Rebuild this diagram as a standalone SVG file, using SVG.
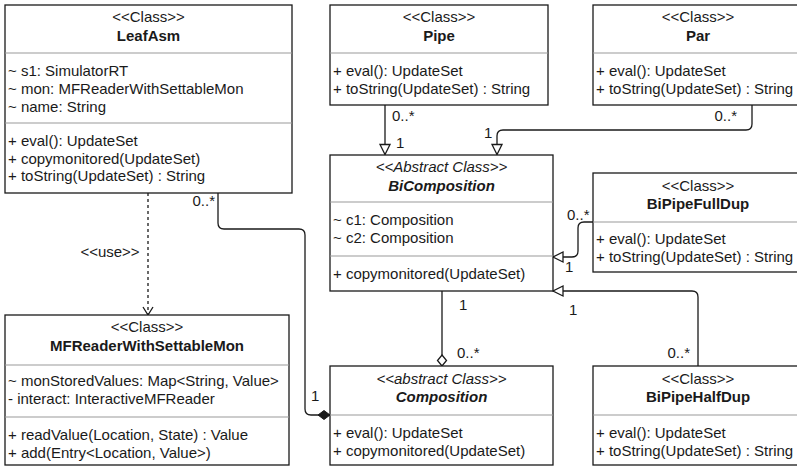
<svg xmlns="http://www.w3.org/2000/svg" width="797" height="466" viewBox="0 0 797 466">
<style>
text{font-family:"Liberation Sans",Arial,Helvetica,sans-serif;font-size:15px;fill:#1a1a1a}
.box{fill:#fff;stroke:#1a1a1a;stroke-width:1.3}
.sep{stroke:#999;stroke-width:1.1}
.st{text-anchor:middle}
.nm{text-anchor:middle;font-weight:bold}
.it{font-style:italic}
.edge{fill:none;stroke:#1a1a1a;stroke-width:1.3}
.dash{stroke-dasharray:3 3}
.end{text-anchor:end}
.mid{text-anchor:middle}
</style>
<defs>
<marker id="tri" viewBox="0 0 11 11" refX="10.5" refY="5.5" markerWidth="11" markerHeight="11" orient="auto" markerUnits="userSpaceOnUse" overflow="visible"><path d="M0.5,0.5 L10.5,5.5 L0.5,10.5 Z" fill="#fff" stroke="#1a1a1a" stroke-width="1.3"/></marker>
<marker id="vee" viewBox="0 0 8 10" refX="8" refY="5" markerWidth="8" markerHeight="10" orient="auto" markerUnits="userSpaceOnUse" overflow="visible"><path d="M0,0 L8,5 L0,10" fill="none" stroke="#1a1a1a" stroke-width="1.3"/></marker>
<marker id="odia" viewBox="0 0 11 9" refX="11" refY="4.5" markerWidth="11" markerHeight="9" orient="auto" markerUnits="userSpaceOnUse" overflow="visible"><path d="M0,4.5 L5.5,0 L11,4.5 L5.5,9 Z" fill="#fff" stroke="#1a1a1a" stroke-width="1.3"/></marker>
<marker id="fdia" viewBox="0 0 12 9" refX="12" refY="4.5" markerWidth="12" markerHeight="9" orient="auto" markerUnits="userSpaceOnUse" overflow="visible"><path d="M0,4.5 L6,0 L12,4.5 L6,9 Z" fill="#1a1a1a" stroke="#1a1a1a" stroke-width="1"/></marker>
</defs>
<rect width="797" height="466" fill="#fff"/>

<g id="connectors">
<path class="edge dash" d="M148 193 V315" marker-end="url(#vee)"/>
<path class="edge" d="M218 193 V223 Q218 229 224 229 H299 Q305 229 305 235 V409 Q305 415 311 415 H330" marker-end="url(#fdia)"/>
<path class="edge" d="M385 105 V154.5" marker-end="url(#tri)"/>
<path class="edge" d="M752 105 V124 Q752 130 746 130 H503 Q497 130 497 136 V154.5" marker-end="url(#tri)"/>
<path class="edge" d="M593 222 H584 Q578 222 578 228 V251 Q578 257 572 257 H553" marker-end="url(#tri)"/>
<path class="edge" d="M698 366 V297 Q698 291 692 291 H553" marker-end="url(#tri)"/>
<path class="edge" d="M442 291 V366" marker-end="url(#odia)"/>
<text class="mid" x="110" y="257">&lt;&lt;use&gt;&gt;</text>
<text class="end" x="215" y="206">0..*</text>
<text x="311" y="401">1</text>
<text x="392" y="121">0..*</text>
<text x="396" y="148">1</text>
<text class="end" x="737" y="121">0..*</text>
<text x="484" y="138">1</text>
<text x="567" y="220">0..*</text>
<text x="565" y="272">1</text>
<text class="end" x="690" y="358">0..*</text>
<text x="569" y="315">1</text>
<text x="459" y="310">1</text>
<text x="457" y="358">0..*</text>
</g>

<g id="LeafAsm">
<rect class="box" x="5" y="5" width="287" height="188"/>
<line class="sep" x1="5" y1="53" x2="292" y2="53"/>
<line class="sep" x1="5" y1="123" x2="292" y2="123"/>
<text class="st" x="148.5" y="22">&lt;&lt;Class&gt;&gt;</text>
<text class="nm" x="148.5" y="41">LeafAsm</text>
<text x="8" y="75.5">~ s1: SimulatorRT</text>
<text x="8" y="93.5">~ mon: MFReaderWithSettableMon</text>
<text x="8" y="111.5">~ name: String</text>
<text x="8" y="145.5">+ eval(): UpdateSet</text>
<text x="8" y="163.5">+ copymonitored(UpdateSet)</text>
<text x="8" y="181">+ toString(UpdateSet) : String</text>
</g>

<g id="Pipe">
<rect class="box" x="330" y="5" width="218" height="100"/>
<line class="sep" x1="330" y1="53" x2="548" y2="53"/>
<text class="st" x="439" y="22">&lt;&lt;Class&gt;&gt;</text>
<text class="nm" x="439" y="41">Pipe</text>
<text x="333" y="76">+ eval(): UpdateSet</text>
<text x="333" y="94">+ toString(UpdateSet) : String</text>
</g>

<g id="Par">
<rect class="box" x="593" y="5" width="210" height="100"/>
<line class="sep" x1="593" y1="53" x2="803" y2="53"/>
<text class="st" x="698" y="22">&lt;&lt;Class&gt;&gt;</text>
<text class="nm" x="698" y="41">Par</text>
<text x="596" y="76">+ eval(): UpdateSet</text>
<text x="596" y="94">+ toString(UpdateSet) : String</text>
</g>

<g id="BiComposition">
<rect class="box" x="330" y="155" width="223" height="136"/>
<line class="sep" x1="330" y1="202" x2="553" y2="202"/>
<line class="sep" x1="330" y1="256" x2="553" y2="256"/>
<text class="st it" x="441.5" y="172">&lt;&lt;Abstract Class&gt;&gt;</text>
<text class="nm it" x="441.5" y="191">BiComposition</text>
<text x="333" y="225">~ c1: Composition</text>
<text x="333" y="243">~ c2: Composition</text>
<text x="333" y="279">+ copymonitored(UpdateSet)</text>
</g>

<g id="BiPipeFullDup">
<rect class="box" x="593" y="173" width="210" height="99"/>
<line class="sep" x1="593" y1="222" x2="803" y2="222"/>
<text class="st" x="698" y="191">&lt;&lt;Class&gt;&gt;</text>
<text class="nm" x="698" y="209">BiPipeFullDup</text>
<text x="596" y="244">+ eval(): UpdateSet</text>
<text x="596" y="262">+ toString(UpdateSet) : String</text>
</g>

<g id="MFReaderWithSettableMon">
<rect class="box" x="5" y="315" width="284" height="150"/>
<line class="sep" x1="5" y1="365" x2="289" y2="365"/>
<line class="sep" x1="5" y1="417" x2="289" y2="417"/>
<text class="st" x="147" y="332">&lt;&lt;Class&gt;&gt;</text>
<text class="nm" x="147" y="351">MFReaderWithSettableMon</text>
<text x="8" y="386">~ monStoredValues: Map&lt;String, Value&gt;</text>
<text x="8" y="404">- interact: InteractiveMFReader</text>
<text x="8" y="440">+ readValue(Location, State) : Value</text>
<text x="8" y="458">+ add(Entry&lt;Location, Value&gt;)</text>
</g>

<g id="Composition">
<rect class="box" x="330" y="366" width="223" height="99"/>
<line class="sep" x1="330" y1="415" x2="553" y2="415"/>
<text class="st it" x="441.5" y="384">&lt;&lt;abstract Class&gt;&gt;</text>
<text class="nm it" x="441.5" y="402">Composition</text>
<text x="333" y="438">+ eval(): UpdateSet</text>
<text x="333" y="456">+ copymonitored(UpdateSet)</text>
</g>

<g id="BiPipeHalfDup">
<rect class="box" x="593" y="366" width="210" height="99"/>
<line class="sep" x1="593" y1="415" x2="803" y2="415"/>
<text class="st" x="698" y="384">&lt;&lt;Class&gt;&gt;</text>
<text class="nm" x="698" y="402">BiPipeHalfDup</text>
<text x="596" y="438">+ eval(): UpdateSet</text>
<text x="596" y="456">+ toString(UpdateSet) : String</text>
</g>
</svg>
